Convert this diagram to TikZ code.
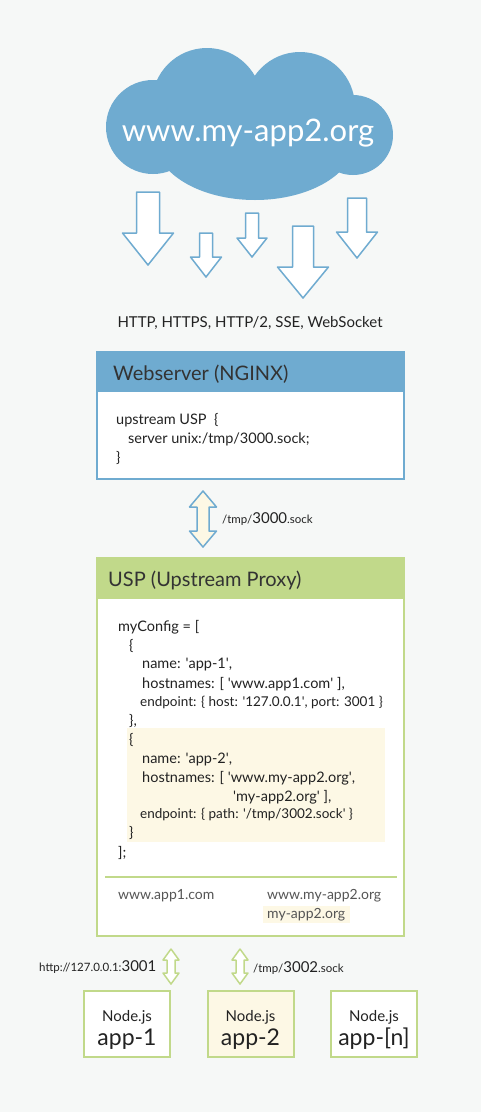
\documentclass[tikz,border=0pt]{standalone}
\usepackage{fontspec}
\setmainfont{Lato}
\definecolor{bg}{HTML}{F6F8F7}
\definecolor{cblue}{HTML}{6FABD0}
\definecolor{cgreen}{HTML}{C1D98A}
\definecolor{cream}{HTML}{FDF8E5}
\definecolor{tdark}{HTML}{333333}
\definecolor{tbody}{HTML}{222222}
\definecolor{tgray}{HTML}{555555}
\newcommand{\q}{\textquotesingle}
\newcommand{\dnarrow}[6]{% cx, top, shaft half width, head start, head half width, tip
  \draw[arrowshape] (#1-#3,#2) -- (#1+#3,#2) -- (#1+#3,#4) -- (#1+#5,#4) -- (#1,#6) -- (#1-#5,#4) -- (#1-#3,#4) -- cycle;}
\newcommand{\vdbl}[8]{% style, cx, top, bottom, shaft hw, head hw, head length, name
  \draw[#1] (#2,#3) -- (#2+#6,#3+#7) -- (#2+#5,#3+#7) -- (#2+#5,#4-#7) -- (#2+#6,#4-#7) -- (#2,#4) -- (#2-#6,#4-#7) -- (#2-#5,#4-#7) -- (#2-#5,#3+#7) -- (#2-#6,#3+#7) -- cycle;
  \coordinate (#8) at (#2,{(#3+#4)/2});}
\newcommand{\sm}{\fontsize{11.5}{13}\selectfont}
\newcommand{\bg}{\fontsize{15}{17}\selectfont}
\tikzset{
  arrowshape/.style={draw=cblue, fill=white, line width=1.5pt, line join=round},
  bluedbl/.style={draw=cblue, fill=cream, line width=1.5pt, line join=round},
  greendbl/.style={draw=cgreen, fill=white, line width=1.5pt, line join=round},
  txt/.style={anchor=base west, inner sep=0pt, text=tbody, font=\fontsize{14.5}{17}\selectfont},
  small/.style={txt, font=\fontsize{13.5}{15}\selectfont},
  gtxt/.style={txt, text=tgray, font=\fontsize{14}{17}\selectfont},
  title/.style={anchor=base west, inner sep=0pt, text=tdark, font=\fontsize{20}{24}\selectfont},
  appbox/.style={draw=cgreen, line width=2pt, minimum width=86pt, minimum height=66pt, inner sep=0pt},
}
\begin{document}
\begin{tikzpicture}[x=1pt,y=-1pt]
\fill[bg] (0,0) rectangle (481,1112);
\useasboundingbox (0,0) rectangle (481,1112);
% cloud
\fill[cblue] (153,127) circle[radius=47pt] (207,103) circle[radius=55pt] (300,107) circle[radius=55pt] (353,135) circle[radius=40pt] (255,140) ellipse[x radius=100pt, y radius=60pt];
\node[anchor=base, inner sep=0pt, text=white, font=\fontsize{31}{36}\selectfont] (cloud) at (248,141) {www.my-app2.org};
% down arrows
\dnarrow{148}{192}{11.5}{233}{25.5}{265}
\dnarrow{206}{233}{6.5}{257}{15.5}{277}
\dnarrow{252}{213}{6.5}{238}{15}{257}
\dnarrow{303}{226}{10.5}{267}{25.5}{298}
\dnarrow{357}{198}{9.5}{232}{20.5}{258}
\node[anchor=base, inner sep=0pt, text=tbody, font=\fontsize{15}{17}\selectfont] (proto) at (250,327) {HTTP, HTTPS, HTTP/2, SSE, WebSocket};
% webserver
\node[draw=cblue, fill=white, line width=2pt, minimum width=307pt, minimum height=126pt, inner sep=0pt] (web) at (250.5,416) {};
\node[fill=cblue, minimum width=309pt, minimum height=41pt, inner sep=0pt, anchor=north] (webh) at ([yshift=1pt]web.north) {};
\node[title] (webt) at (113,380) {Webserver (NGINX)};
\node[txt] (w1) at (116,424) {upstream USP~~\{};
\node[txt] (w2) at (128,443) {server unix:/tmp/3000.sock;};
\node[txt] (w3) at (116,462) {\}};
% USP box
\node[draw=cgreen, fill=white, line width=2pt, minimum width=307pt, minimum height=377pt, inner sep=0pt] (usp) at (250.5,747.5) {};
\node[fill=cgreen, minimum width=309pt, minimum height=42pt, inner sep=0pt, anchor=north] (usph) at ([yshift=1pt]usp.north) {};
\node[title] (uspt) at (108,586) {USP (Upstream Proxy)};
\node[fill=cream, minimum width=258pt, minimum height=114pt, inner sep=0pt] (hl) at (256,785) {};
\node[txt] at (118,631) {myConfig = [};
\node[txt] at (129,650) {\{};
\node[txt] at (142,668) {name: \q app-1\q,};
\node[txt] at (142,688) {hostnames: [ \q www.app1.com\q\ ],};
\node[small] at (140,706) {endpoint: \{ host: \q 127.0.0.1\q, port: 3001 \}};
\node[txt] at (129,725) {\},};
\node[txt] at (129,744) {\{};
\node[txt] at (142,763) {name: \q app-2\q,};
\node[txt] at (142,782) {hostnames: [ \q www.my-app2.org\q,};
\node[txt] at (233,801) {\q my-app2.org\q\ ],};
\node[small] at (140,818) {endpoint: \{ path: \q/tmp/3002.sock\q\ \}};
\node[txt] at (129,837) {\}};
\node[txt] at (118,857) {];};
\coordinate (sepl) at (105,877);
\coordinate (sepr) at (397,877);
\draw[cgreen, line width=2pt] (sepl) -- (sepr);
\node[fill=cream, minimum width=87pt, minimum height=17pt, inner sep=0pt] (hl2) at (306.5,914.5) {};
\node[gtxt] (h1) at (118,899) {www.app1.com};
\node[gtxt] (h2) at (267,899) {www.my-app2.org};
\node[gtxt] (h3) at (267,918) {my-app2.org};
% connectors
\vdbl{bluedbl}{203}{491}{547}{6}{13.5}{16}{c1}
\node[anchor=base west, inner sep=0pt, text=tbody] (l1) at (222,523) {\sm/tmp/\bg3000\sm.sock};
\vdbl{greendbl}{171}{949}{984}{4}{8}{11}{c2}
\vdbl{greendbl}{240}{949}{984}{4}{8}{11}{c3}
\node[anchor=base west, inner sep=0pt, text=tbody] (l2) at (39,971) {\sm http://127.0.0.1:\bg3001};
\node[anchor=base west, inner sep=0pt, text=tbody] (l3) at (253,972) {\sm/tmp/\bg3002\sm.sock};
% app boxes
\node[appbox, fill=white] (a1) at (127,1024) {};
\node[appbox, fill=cream] (a2) at (250.5,1024) {};
\node[appbox, fill=white] (a3) at (374,1024) {};
\foreach \n/\x/\t in {a1/127/app-1, a2/250.5/app-2, a3/374/app-[n]} {
  \node[anchor=base, inner sep=0pt, text=tbody, font=\fontsize{15}{18}\selectfont] at (\x,1021.5) {Node.js};
  \node[anchor=base, inner sep=0pt, text=tbody, font=\fontsize{23}{27}\selectfont] at (\x,1045) {\t};
}
\end{tikzpicture}
\end{document}
